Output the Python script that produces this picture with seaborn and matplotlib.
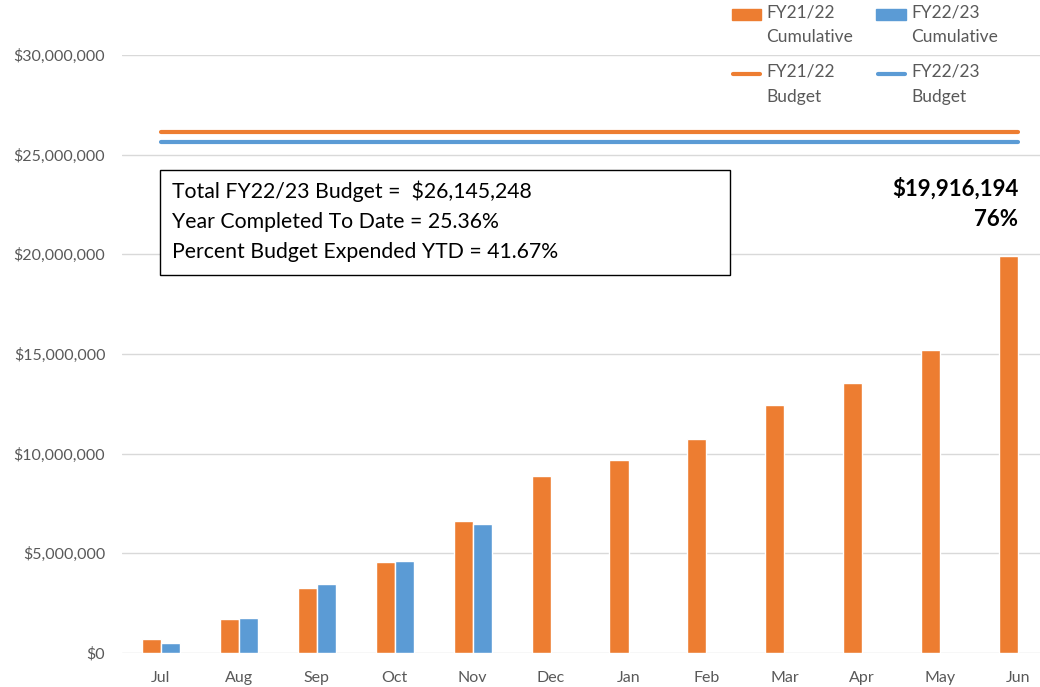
import matplotlib
matplotlib.use("Agg")
import matplotlib.pyplot as plt
import matplotlib.patches as mpatches
from matplotlib.lines import Line2D
from matplotlib.ticker import FuncFormatter
import seaborn as sns
import pandas as pd
import numpy as np

months = ["Jul", "Aug", "Sep", "Oct", "Nov", "Dec", "Jan", "Feb", "Mar", "Apr", "May", "Jun"]
fy2122_cum = [720000, 1690000, 3240000, 4580000, 6600000, 8900000, 9660000,
              10760000, 12420000, 13530000, 15220000, 19916194]
fy2223_cum = [520000, 1740000, 3480000, 4630000, 6490000, None, None,
              None, None, None, None, None]
fy2122_budget = [26145248] * 12
fy2223_budget = [25650000] * 12
series_names = ["FY21/22\nCumulative", "FY22/23\nCumulative"]
budget_names = ["FY21/22\nBudget", "FY22/23\nBudget"]
box_lines = ["Total FY22/23 Budget =  $26,145,248",
             "Year Completed To Date = 25.36%",
             "Percent Budget Expended YTD = 41.67%"]
jun_label = "$19,916,194\n76%"

ORANGE = "#ED7D31"
BLUE = "#5B9BD5"
GREY = "#595959"

sns.set_theme(style="white")
plt.rcParams["font.family"] = ["Lato", "DejaVu Sans"]

df = pd.DataFrame({
    "month": months * 2,
    "series": [series_names[0]] * 12 + [series_names[1]] * 12,
    "value": fy2122_cum + fy2223_cum,
})

fig = plt.figure(figsize=(10.4, 6.87), dpi=100)
W, H = 1040, 687
ax = fig.add_axes([122 / W, (H - 653) / H, (1040 - 122) / W, (653 - 55) / H])

sns.barplot(data=df, x="month", y="value", hue="series", order=months,
            hue_order=series_names, palette=[ORANGE, BLUE], width=0.49,
            saturation=1, ax=ax, legend=False)

x = np.arange(len(months))
ax.plot(x, fy2122_budget, color=ORANGE, lw=3, solid_capstyle="round")
ax.plot(x, fy2223_budget, color=BLUE, lw=3, solid_capstyle="round")

ax.set_ylim(0, 30000000)
ax.set_xlim(-0.5, 11.28)
ax.set_yticks(np.arange(0, 30000001, 5000000))
ax.yaxis.set_major_formatter(FuncFormatter(lambda v, p: f"${v:,.0f}"))
ax.grid(axis="y", color="#d9d9d9", lw=1)
ax.set_axisbelow(True)
for s in ax.spines.values():
    s.set_visible(False)
ax.tick_params(axis="both", length=0, labelsize=11.5, colors=GREY)
ax.tick_params(axis="y", pad=12)
ax.tick_params(axis="x", pad=13)
ax.set_xlabel("")
ax.set_ylabel("")

# text box
x0, x1 = (160 - 122) / 918, (730 - 122) / 918
y1, y0 = (653 - 170) / 598, (653 - 275) / 598
ax.add_patch(mpatches.Rectangle((x0, y0), x1 - x0, y1 - y0, transform=ax.transAxes,
                                fc="white", ec="black", lw=1, zorder=5))
ax.text((172 - 122) / 918, (653 - 180) / 598, "\n".join(box_lines), transform=ax.transAxes,
        ha="left", va="top", fontsize=15.3, color="black", linespacing=1.65, zorder=6)

ax.annotate(jun_label, xy=(11, fy2122_cum[-1]), xytext=(0, 19), textcoords="offset points",
            ha="right", va="bottom", fontsize=16, fontweight="bold", color="black",
            linespacing=1.55)


class TopHandler:
    def __init__(self, color, kind):
        self.color = color
        self.kind = kind

    def legend_artist(self, legend, orig_handle, fontsize, handlebox):
        xd, yd = handlebox.xdescent, handlebox.ydescent
        w, h = handlebox.width, handlebox.height
        top = -yd + h
        ph = 8.0
        if self.kind == "bar":
            art = mpatches.Rectangle((-xd, top - ph + 2.5), w, ph, color=self.color,
                                     transform=handlebox.get_transform())
        else:
            yy = top - ph / 2 + 2.5
            art = Line2D([-xd + 1, -xd + w - 1], [yy, yy], color=self.color, lw=3,
                         solid_capstyle="round", transform=handlebox.get_transform())
        handlebox.add_artist(art)
        return art


h1 = mpatches.Patch(color=ORANGE)
h2 = Line2D([0], [0], color=ORANGE)
h3 = mpatches.Patch(color=BLUE)
h4 = Line2D([0], [0], color=BLUE)
handles = [h1, h2, h3, h4]
labels = [series_names[0], budget_names[0], series_names[1], budget_names[1]]
hmap = {h1: TopHandler(ORANGE, "bar"), h2: TopHandler(ORANGE, "line"),
        h3: TopHandler(BLUE, "bar"), h4: TopHandler(BLUE, "line")}
leg = fig.legend(handles, labels, loc="upper left", bbox_to_anchor=(716 / W, 1 + 11 / H),
                 ncol=2, frameon=False, fontsize=12.5, labelcolor=GREY, handlelength=1.72,
                 handleheight=2.0, handletextpad=0.29, columnspacing=1.33, labelspacing=1.07,
                 handler_map=hmap)
for t in leg.get_texts():
    t.set_linespacing(1.67)

fig.savefig("out.png", dpi=100)
